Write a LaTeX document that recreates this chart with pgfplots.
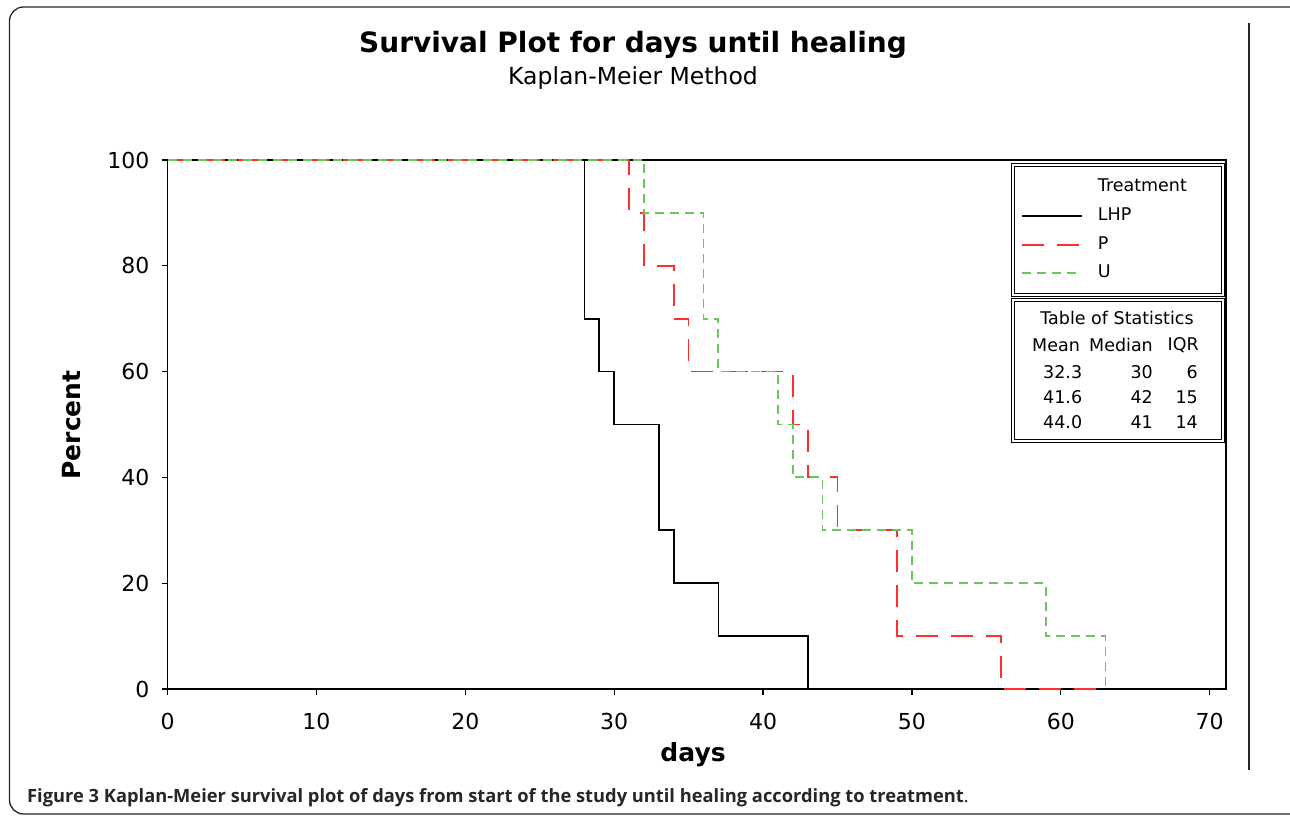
\documentclass[border=0pt]{standalone}
\usepackage{pgfplots}
\pgfplotsset{compat=1.18}
\usepackage{fontspec}
\setmainfont{DejaVu Sans}
\newfontfamily\capfont{Open Sans}
\definecolor{kmred}{RGB}{255,45,45}
\definecolor{kmgreen}{RGB}{105,200,90}
\begin{document}
\begin{tikzpicture}[x=1pt,y=1pt]
\useasboundingbox (0,0) rectangle (1290,816);
\draw[line width=1.3pt, black!85, rounded corners=14pt] (9.5,2) rectangle (1320,809);
\draw[line width=1.3pt, black!85] (1249,46) -- (1249,793);
\node[font=\bfseries\fontsize{28}{32}\selectfont] at (633,771) {Survival Plot for days until healing};
\node[font=\fontsize{23.5}{27}\selectfont] at (633,738) {Kaplan-Meier Method};
\begin{axis}[
  at={(167.5pt,127pt)}, anchor=south west,
  scale only axis, width=1058.5pt, height=529pt,
  xmin=0, xmax=71.1, ymin=0, ymax=100,
  xtick={0,10,...,70}, ytick={0,20,...,100},
  xtick pos=left, ytick pos=left,
  tick align=outside, major tick length=6pt,
  tick style={black, line width=1.2pt},
  axis line style={line width=1.2pt},
  /pgf/number format/assume math mode=true,
  ticklabel style={font=\fontsize{22}{26}\selectfont},
  xticklabel style={anchor=north, inner sep=0pt, yshift=-18pt},
  yticklabel style={anchor=east, inner sep=0pt, xshift=-12pt},
  clip=false,
  xlabel={days}, ylabel={Percent},
  xlabel style={font=\bfseries\fontsize{25}{30}\selectfont, at={(axis description cs:0.4965,-0.1248)}, anchor=center},
  ylabel style={font=\bfseries\fontsize{25}{30}\selectfont, at={(axis description cs:-0.0902,0.499)}, anchor=center},
  legend image code/.code={\draw[#1] (0pt,0pt) -- (60pt,0pt);},
  legend style={at={(rel axis cs:0.9972,0.9905)}, anchor=north east, draw=none, fill=none,
    inner xsep=10pt, inner ysep=8pt, row sep=0.7pt, column sep=12pt,
    font=\fontsize{17.5}{21}\selectfont,
    nodes={inner xsep=3pt, inner ysep=5.5pt, text height=13pt, text depth=4pt, text width=112pt, align=left}},
  legend cell align=left,
]
\addlegendimage{empty legend}
\addlegendentry{Treatment}
\addplot[const plot, black, line width=1.7pt] coordinates {
 (0,100) (28,70) (29,60) (30,50) (33,30) (34,20) (37,10) (43,0)};
\addlegendentry{LHP}
\addplot[const plot, kmred, line width=1.8pt, dash pattern=on 22pt off 13pt] coordinates {
 (0,100) (31,90) (32,80) (34,70) (35,60) (42,50) (43,40) (45,30) (49,10) (56,0) (62.5,0)};
\addlegendentry{P}
\addplot[const plot, kmgreen, line width=1.8pt, dash pattern=on 9pt off 6pt] coordinates {
 (0,100) (32,90) (36,70) (37,60) (41,50) (42,40) (44,30) (50,20) (59,10) (63,0)};
\addlegendentry{U}
\end{axis}
\draw[line width=0.9pt, double=white, double distance=1.6pt] (1013,521) rectangle (1223,651);
\draw[line width=0.9pt, double=white, double distance=1.6pt] (1013,375) rectangle (1223,516);
\begin{scope}[every node/.style={font=\fontsize{17.5}{21}\selectfont, inner sep=0pt}]
\node at (1117,498) {Table of Statistics};
\node[anchor=west] at (1032,471) {Mean};
\node[anchor=east] at (1153,471) {Median};
\node[anchor=east] at (1199,471) {IQR};
\node[anchor=west] at (1043,444) {32.3};
\node[anchor=east] at (1153,444) {30};
\node[anchor=east] at (1198,444) {6};
\node[anchor=west] at (1043,419) {41.6};
\node[anchor=east] at (1153,419) {42};
\node[anchor=east] at (1198,419) {15};
\node[anchor=west] at (1043,394) {44.0};
\node[anchor=east] at (1153,394) {41};
\node[anchor=east] at (1198,394) {14};
\end{scope}
\node[anchor=base west, inner sep=0pt, text=black!85, font=\capfont\fontsize{18.3}{22}\selectfont] at (27,13) {\textbf{Figure 3 Kaplan-Meier survival plot of days from start of the study until healing according to treatment}.};
\end{tikzpicture}
\end{document}
